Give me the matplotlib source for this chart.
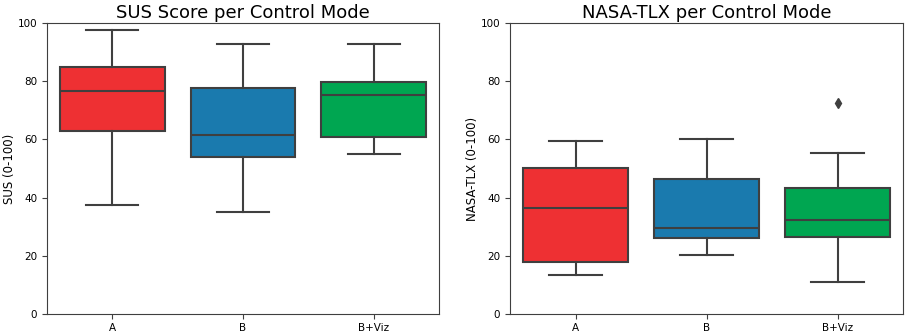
import matplotlib
matplotlib.use("Agg")
import matplotlib.pyplot as plt

modes = ["A", "B", "B+Viz"]
colors = ["#EE3033", "#1A7AAE", "#00A651"]

# box statistics: low whisker, Q1, median, Q3, high whisker
sus_low = [37.5, 35.0, 55.0]
sus_q1 = [62.8, 53.8, 60.9]
sus_med = [76.7, 61.4, 75.2]
sus_q3 = [84.9, 77.8, 79.7]
sus_high = [97.6, 92.9, 92.9]
sus_out = [[], [], []]

tlx_low = [13.3, 20.1, 10.9]
tlx_q1 = [17.7, 26.1, 26.4]
tlx_med = [36.4, 29.6, 32.1]
tlx_q3 = [50.2, 46.4, 43.2]
tlx_high = [59.5, 60.0, 55.2]
tlx_out = [[], [], [72.6]]

line_col = "#3f3f3f"


def make_stats(low, q1, med, q3, high, outs):
    stats = []
    for i in range(len(modes)):
        stats.append({"whislo": low[i], "q1": q1[i], "med": med[i], "q3": q3[i],
                      "whishi": high[i], "fliers": outs[i], "label": modes[i]})
    return stats


def draw(ax, stats, title, ylabel):
    bp = ax.bxp(stats, positions=range(len(modes)), widths=0.8, patch_artist=True,
                showfliers=True,
                boxprops=dict(edgecolor=line_col, linewidth=1.5),
                medianprops=dict(color=line_col, linewidth=1.5),
                whiskerprops=dict(color=line_col, linewidth=1.5),
                capprops=dict(color=line_col, linewidth=1.5),
                flierprops=dict(marker="d", markerfacecolor=line_col,
                                markeredgecolor=line_col, markersize=5))
    for patch, c in zip(bp["boxes"], colors):
        patch.set_facecolor(c)
    ax.set_xlim(-0.5, len(modes) - 0.5)
    ax.set_ylim(0, 100)
    ax.set_xticks(range(len(modes)))
    ax.set_xticklabels(modes)
    ax.tick_params(labelsize=7.5, color=line_col)
    ax.set_title(title, fontsize=13, pad=4)
    ax.set_ylabel(ylabel, fontsize=8.5, labelpad=1.5)
    for s in ax.spines.values():
        s.set_color(line_col)


fig = plt.figure(figsize=(9.06, 3.33), dpi=100)
ax1 = fig.add_axes([47 / 906, 19.3 / 333, 392 / 906, 290.4 / 333])
ax2 = fig.add_axes([510 / 906, 19.3 / 333, 393 / 906, 290.4 / 333])

draw(ax1, make_stats(sus_low, sus_q1, sus_med, sus_q3, sus_high, sus_out),
     "SUS Score per Control Mode", "SUS (0-100)")
draw(ax2, make_stats(tlx_low, tlx_q1, tlx_med, tlx_q3, tlx_high, tlx_out),
     "NASA-TLX per Control Mode", "NASA-TLX (0-100)")

fig.savefig("out.png", dpi=100)
